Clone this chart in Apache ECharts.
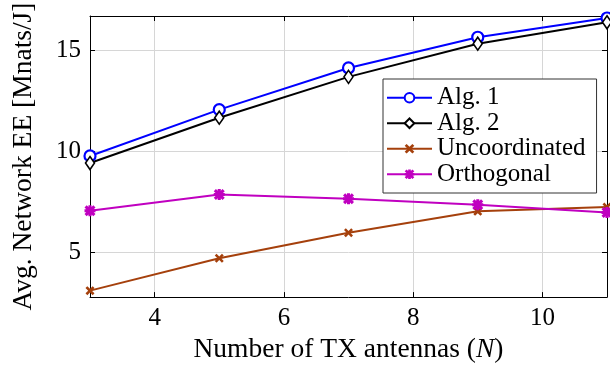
<!DOCTYPE html>
<html>
<head>
<meta charset="utf-8">
<script src="https://cdn.jsdelivr.net/npm/echarts@6/dist/echarts.min.js"></script>
<style>
  html, body { margin: 0; padding: 0; background: #fff; }
  #chart { width: 610px; height: 369px; }
</style>
</head>
<body>
<div id="chart"></div>
<script>
var antennas = [3, 5, 7, 9, 11];
var alg1 = [9.78, 12.07, 14.13, 15.65, 16.6];
var alg2 = [9.43, 11.67, 13.69, 15.33, 16.39];
var uncoord = [3.12, 4.72, 5.98, 7.04, 7.25];
var orthog = [7.07, 7.87, 7.66, 7.37, 6.98];
var xTicks = [4, 6, 8, 10];
var yTicks = [5, 10, 15];

var serif = 'Liberation Serif';
var rule = '#d6d6d6';

// thick x and asterisk marks, like the pgfplots ones
var crossPath = 'path://M0,2L2,0L5,3L8,0L10,2L7,5L10,8L8,10L5,7L2,10L0,8L3,5Z';
var starPath = 'path://M3.6,0L6.4,0L6.4,10L3.6,10ZM0,3.6L10,3.6L10,6.4L0,6.4Z' +
  'M2,0L10,8L8,10L0,2ZM8,0L10,2L2,10L0,8Z';

function pairs(ys) {
  return antennas.map(function(x, i) { return [x, ys[i]]; });
}

function lineSeries(name, ys, color, symbol, size, fill, border) {
  return {
    name: name,
    type: 'line',
    data: pairs(ys),
    symbol: symbol,
    symbolSize: size,
    showAllSymbol: true,
    lineStyle: { color: color, width: 2 },
    itemStyle: { color: fill, borderColor: color, borderWidth: border }
  };
}

// canvas renderer: the svg one fell back to sans for labels and legend
var chart = echarts.init(document.getElementById('chart'), null, { renderer: 'canvas' });
chart.setOption({
  animation: false,
  textStyle: { fontFamily: serif },
  grid: { left: 90, right: 3, top: 16, bottom: 70 },
  xAxis: [{
    type: 'value',
    min: 3,
    max: 11,
    name: 'Number of TX antennas ({i|N})',
    nameLocation: 'middle',
    nameGap: 36,
    nameTextStyle: {
      color: '#000', fontSize: 27.5, fontFamily: serif,
      rich: { i: { fontStyle: 'italic', fontSize: 27.5, fontFamily: serif, color: '#000' } }
    },
    axisLine: { onZero: false, lineStyle: { color: '#000', width: 1 } },
    axisTick: { inside: true, length: 5, customValues: xTicks, lineStyle: { color: '#000' } },
    axisLabel: { customValues: xTicks, color: '#000', fontSize: 25, fontFamily: serif, margin: 9 },
    splitLine: { show: true, lineStyle: { color: rule, width: 1 } }
  }, {
    type: 'value',
    position: 'top',
    min: 3,
    max: 11,
    axisLine: { show: true, onZero: false, lineStyle: { color: '#000', width: 1 } },
    axisTick: { show: true, inside: true, length: 5, customValues: xTicks, lineStyle: { color: '#000' } },
    axisLabel: { show: false },
    splitLine: { show: false }
  }],
  yAxis: [{
    type: 'value',
    min: 2.8,
    max: 16.7,
    name: 'Avg. Network EE [Mnats/J]',
    nameLocation: 'middle',
    nameRotate: 90,
    nameGap: 52,
    nameTextStyle: { color: '#000', fontSize: 27.5, fontFamily: serif },
    axisLine: { show: true, onZero: false, lineStyle: { color: '#000', width: 1 } },
    axisTick: { show: true, inside: true, length: 5, customValues: yTicks, lineStyle: { color: '#000' } },
    axisLabel: { customValues: yTicks, color: '#000', fontSize: 25, fontFamily: serif, margin: 9 },
    splitLine: { show: true, lineStyle: { color: rule, width: 1 } }
  }, {
    type: 'value',
    position: 'right',
    min: 2.8,
    max: 16.7,
    axisLine: { show: true, onZero: false, lineStyle: { color: '#000', width: 1 } },
    axisTick: { show: true, inside: true, length: 5, customValues: yTicks, lineStyle: { color: '#000' } },
    axisLabel: { show: false },
    splitLine: { show: false }
  }],
  legend: {
    orient: 'vertical',
    left: 383,
    top: 79,
    padding: [6, 11, 6, 3],
    itemGap: 0,
    itemWidth: 45,
    itemHeight: 12,
    backgroundColor: '#fff',
    borderColor: '#333',
    borderWidth: 1,
    borderRadius: 0,
    textStyle: { color: '#000', fontSize: 25, fontFamily: serif, lineHeight: 25.5 },
    data: ['Alg. 1', 'Alg. 2', 'Uncoordinated', 'Orthogonal']
  },
  series: [
    lineSeries('Alg. 1', alg1, '#0000ff', 'circle', 11, '#fff', 2.2),
    lineSeries('Alg. 2', alg2, '#000000', 'diamond', [9, 13], '#fff', 1.6),
    lineSeries('Uncoordinated', uncoord, '#a5400c', crossPath, 9, '#a5400c', 0),
    lineSeries('Orthogonal', orthog, '#c000c0', starPath, 11, '#c000c0', 0)
  ]
});
</script>
</body>
</html>
